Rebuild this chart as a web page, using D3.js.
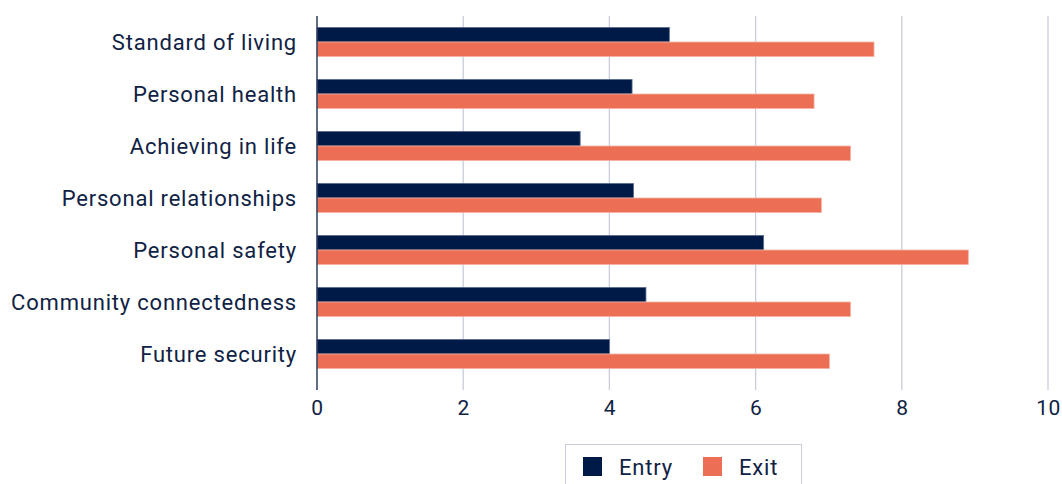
<!DOCTYPE html>
<html>
<head>
<meta charset="utf-8">
<script src="https://cdn.jsdelivr.net/npm/d3@7"></script>
<style>
  html, body { margin: 0; padding: 0; background: #ffffff; }
  svg { display: block; }
  text { font-family: "Roboto", "Open Sans", sans-serif; fill: #0f2244; }
</style>
</head>
<body>
<svg id="chart" width="1062" height="484"></svg>
<script>
const categories = ["Standard of living", "Personal health", "Achieving in life", "Personal relationships", "Personal safety", "Community connectedness", "Future security"];
const seriesNames = ["Entry", "Exit"];
const entryValues = [4.82, 4.31, 3.6, 4.33, 6.11, 4.5, 4.0];
const exitValues = [7.62, 6.8, 7.3, 6.9, 8.91, 7.3, 7.01];
const xTicks = [0, 2, 4, 6, 8, 10];
const colors = ["#001a47", "#ec6f55"];

const svg = d3.select("#chart");
const margin = { left: 317, right: 14, top: 16, bottom: 104 };

const x = d3.scaleLinear().domain([0, 10]).range([margin.left, 1048]);
const y = d3.scaleBand().domain(categories).range([margin.top, 380]).paddingInner(0.44).paddingOuter(0.22);
const ySub = d3.scaleBand().domain(seriesNames).range([0, y.bandwidth()]);

// gridlines
svg.append("g").selectAll("line").data(xTicks.filter(t => t > 0)).join("line")
  .attr("x1", d => x(d)).attr("x2", d => x(d))
  .attr("y1", margin.top).attr("y2", 390)
  .attr("stroke", "#c9ccdc").attr("stroke-width", 1.3);

// bars
const rows = categories.map((c, i) => ({ cat: c, vals: [entryValues[i], exitValues[i]] }));
const g = svg.append("g").selectAll("g").data(rows).join("g")
  .attr("transform", d => `translate(0,${y(d.cat)})`);
g.selectAll("rect").data(d => d.vals.map((v, j) => ({ name: seriesNames[j], v, j }))).join("rect")
  .attr("x", x(0))
  .attr("y", d => ySub(d.name))
  .attr("width", d => x(d.v) - x(0))
  .attr("height", ySub.bandwidth())
  .attr("fill", d => colors[d.j])
  .attr("stroke", d => d.j === 0 ? "#5a6d8e" : "#f6b4a6")
  .attr("stroke-width", 0.8);

// zero axis line
svg.append("line").attr("x1", x(0)).attr("x2", x(0)).attr("y1", margin.top).attr("y2", 390)
  .attr("stroke", "#2c3d5e").attr("stroke-width", 1.5);

// x tick labels
const xAxis = d3.axisBottom(x).tickValues(xTicks).tickSize(0).tickPadding(0).tickFormat(d3.format("d"));
const xg = svg.append("g").attr("transform", "translate(0,400)").call(xAxis);
xg.select(".domain").remove();
xg.selectAll("text").attr("font-size", 21).attr("dy", "0.71em")
  .style("font-family", '"Roboto", sans-serif').style("letter-spacing", "0.5px").attr("fill", "#0f2244");

// y labels
const yAxis = d3.axisLeft(y).tickSize(0).tickPadding(20);
const yg = svg.append("g").attr("transform", `translate(${x(0)},0)`).call(yAxis);
yg.select(".domain").remove();
yg.selectAll("text").attr("font-size", 22).attr("fill", "#0f2244")
  .style("font-family", '"Roboto", sans-serif').style("letter-spacing", "0.8px").attr("dy", "0.36em");

// legend
const lg = svg.append("g");
lg.append("rect").attr("x", 565.5).attr("y", 444.5).attr("width", 236).attr("height", 50)
  .attr("fill", "#fff").attr("stroke", "#c9ccdc").attr("stroke-width", 1);
const items = lg.selectAll("g.item").data(seriesNames).join("g").attr("class", "item")
  .attr("transform", (d, i) => `translate(${583 + i * 120},457)`);
items.append("rect").attr("width", 19).attr("height", 19).attr("fill", (d, i) => colors[i]);
items.append("text").attr("x", 36).attr("y", 10).attr("dy", "0.36em").attr("font-size", 22)
  .style("letter-spacing", "0.8px").text(d => d);
</script>
</body>
</html>
